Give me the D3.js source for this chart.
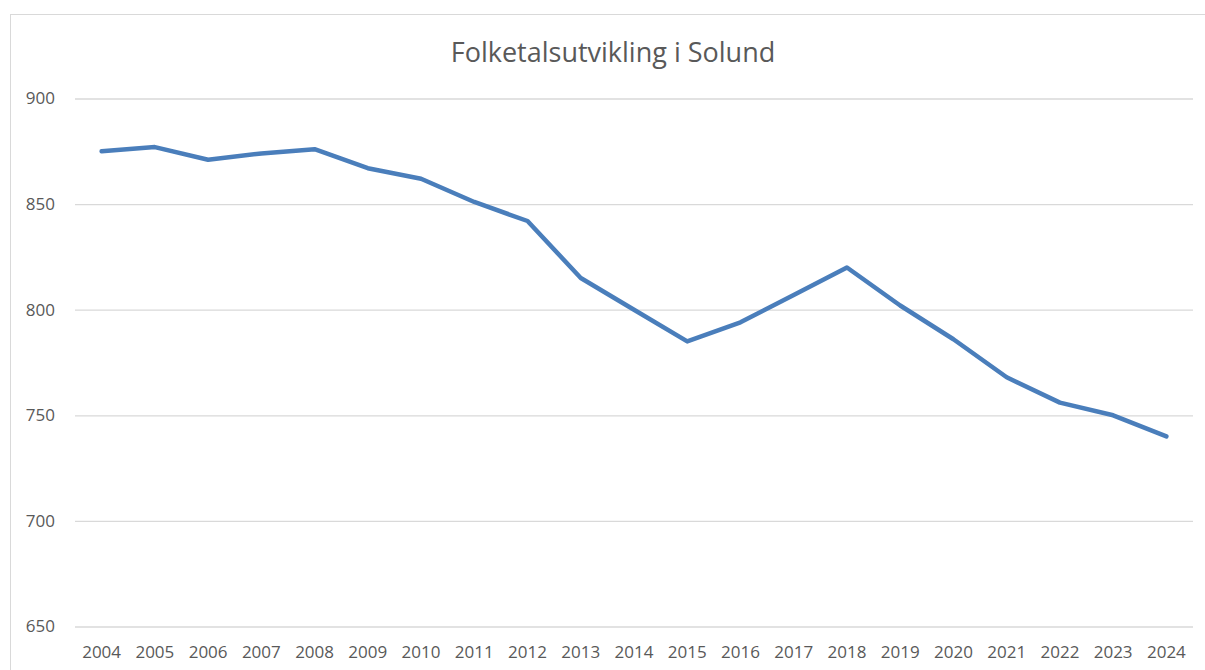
<!DOCTYPE html>
<html><head><meta charset="utf-8">
<script src="https://cdn.jsdelivr.net/npm/d3@7"></script>
<style>body{margin:0;background:#fff;} svg{display:block;}</style>
</head><body>
<script>
const years = ["2004","2005","2006","2007","2008","2009","2010","2011","2012","2013","2014","2015","2016","2017","2018","2019","2020","2021","2022","2023","2024"];
const population = [875,877,871,874,876,867,862,851,842,815,800,785,794,807,820,802,786,768,756,750,740];
const yTicks = [650,700,750,800,850,900];
const title = "Folketalsutvikling i Solund";

(function(){
const W = 1205, H = 670;
const svg = d3.select("body").append("svg").attr("width", W).attr("height", H);
const font = "'Open Sans', 'Noto Sans', sans-serif";

svg.append("rect").attr("x",10.5).attr("y",14.5).attr("width",1300).attr("height",800)
  .attr("fill","#fff").attr("stroke","#d9d9d9").attr("stroke-width",1);

const pLeft = 75, pRight = 1193, pTop = 98.5, pBottom = 626.5;
const x = d3.scaleBand().domain(years).range([pLeft, pRight]);
const y = d3.scaleLinear().domain([650, 900]).range([pBottom, pTop]);

const g = svg.append("g");
const yAxis = g.append("g").attr("transform", `translate(${pLeft},0)`)
  .call(d3.axisLeft(y).tickValues(yTicks).tickSize(-(pRight-pLeft)).tickPadding(20));
yAxis.select(".domain").remove();
yAxis.selectAll(".tick line").attr("stroke","#d9d9d9").attr("stroke-width",1.3);
yAxis.selectAll(".tick text").attr("fill","#595959").style("font-family",font).style("font-size","17px");

const xAxis = g.append("g").attr("transform", `translate(0,${pBottom})`)
  .call(d3.axisBottom(x).tickSize(0).tickPadding(19));
xAxis.select(".domain").remove();
xAxis.selectAll(".tick text").attr("fill","#595959").style("font-family",font).style("font-size","17px");

const line = d3.line().x((d,i)=>x(years[i])+x.bandwidth()/2).y(d=>y(d));
g.append("path").datum(population).attr("d", line).attr("fill","none")
  .attr("stroke","#4a7ebb").attr("stroke-width",4.5).attr("stroke-linejoin","round").attr("stroke-linecap","round");

svg.append("text").attr("x",613).attr("y",62).attr("text-anchor","middle")
  .attr("fill","#595959").style("font-family",font).style("font-size","27px").text(title);
})();
</script>
</body></html>
